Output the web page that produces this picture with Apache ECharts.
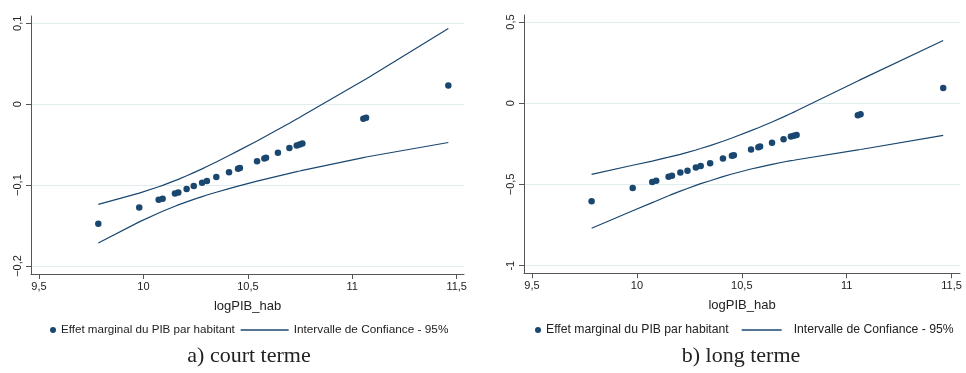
<!DOCTYPE html>
<html>
<head>
<meta charset="utf-8">
<script src="https://cdn.jsdelivr.net/npm/echarts@6/dist/echarts.min.js"></script>
<style>
html,body{margin:0;padding:0;background:#fff;}
#c{width:966px;height:373px;}
</style>
</head>
<body>
<div id="c"></div>
<script>
// ---- data ----
const logPIB = [9.784, 9.980, 10.073, 10.092, 10.151, 10.167, 10.207, 10.241, 10.281, 10.304, 10.349, 10.410, 10.453, 10.462, 10.544, 10.579, 10.587, 10.644, 10.699, 10.734, 10.748, 10.761, 11.053, 11.066, 11.460];

// a) court terme
const effetCourt = [-0.1477, -0.1276, -0.1181, -0.1169, -0.1103, -0.1091, -0.1049, -0.1012, -0.0971, -0.0951, -0.0901, -0.0840, -0.0798, -0.0790, -0.0704, -0.0671, -0.0663, -0.0601, -0.0543, -0.0510, -0.0498, -0.0486, -0.0181, -0.0169, 0.0230];
const upperCourt = [-0.1239, -0.1099, -0.1021, -0.1003, -0.0945, -0.0929, -0.0885, -0.0846, -0.0800, -0.0771, -0.0714, -0.0635, -0.0577, -0.0565, -0.0454, -0.0405, -0.0394, -0.0313, -0.0235, -0.0184, -0.0164, -0.0144, 0.0292, 0.0311, 0.0936];
const lowerCourt = [-0.1715, -0.1455, -0.1345, -0.1323, -0.1261, -0.1245, -0.1207, -0.1176, -0.1142, -0.1123, -0.1088, -0.1043, -0.1013, -0.1007, -0.0952, -0.0929, -0.0924, -0.0889, -0.0855, -0.0834, -0.0826, -0.0818, -0.0660, -0.0653, -0.0474];

// b) long terme
const effetLong = [-0.604, -0.522, -0.485, -0.478, -0.452, -0.446, -0.427, -0.415, -0.396, -0.386, -0.370, -0.341, -0.324, -0.320, -0.285, -0.271, -0.267, -0.244, -0.222, -0.205, -0.201, -0.195, -0.074, -0.068, 0.094];
const upperLong = [-0.438, -0.382, -0.356, -0.350, -0.332, -0.327, -0.315, -0.303, -0.288, -0.279, -0.261, -0.234, -0.214, -0.210, -0.169, -0.151, -0.147, -0.116, -0.084, -0.063, -0.055, -0.046, 0.137, 0.145, 0.386];
const lowerLong = [-0.770, -0.662, -0.612, -0.602, -0.570, -0.561, -0.541, -0.525, -0.506, -0.495, -0.477, -0.452, -0.436, -0.434, -0.405, -0.395, -0.393, -0.376, -0.362, -0.353, -0.351, -0.348, -0.287, -0.285, -0.198];

// ticks
const xTicks = [9.5, 10, 10.5, 11, 11.5];
const xTickLabels = ['9,5', '10', '10,5', '11', '11,5'];
const yTicksCourt = [-0.2, -0.1, 0, 0.1];
const yTickLabelsCourt = ['\u22120,2', '\u22120,1', '0', '0,1'];
const yTicksLong = [-1, -0.5, 0, 0.5];
const yTickLabelsLong = ['-1', '\u22120,5', '0', '0,5'];

const names = {
  effet: 'Effet marginal du PIB par habitant',
  ic: 'Intervalle de Confiance - 95%'
};
const captions = ['a) court terme', 'b) long terme'];
const xName = 'logPIB_hab';

// ---- styling ----
const NAVY = '#1a476f';
const GRID = '#e1ecee';
const AXIS = '#555555';
const FONT = '"Liberation Sans", Arial, sans-serif';
const SERIF = '"Liberation Serif", "DejaVu Serif", serif';

function pairs(xs, ys) { return xs.map((x, i) => [x, ys[i]]); }
function labelFor(ticks, labels) {
  return function (v) {
    for (let i = 0; i < ticks.length; i++) if (Math.abs(ticks[i] - v) < 1e-6) return labels[i];
    return '';
  };
}

function xAxisDef(gridIndex, min, max) {
  return {
    type: 'value', gridIndex, min, max,
    name: xName, nameLocation: 'middle', nameGap: 26,
    nameTextStyle: { fontFamily: FONT, fontSize: 13, color: '#222' },
    axisLine: { show: true, onZero: false, lineStyle: { color: AXIS, width: 1 } },
    axisTick: { show: true, length: 5, customValues: xTicks, lineStyle: { color: AXIS } },
    axisLabel: { customValues: xTicks, formatter: labelFor(xTicks, xTickLabels), margin: 7,
      fontFamily: FONT, fontSize: 11, color: '#222' },
    splitLine: { show: false }
  };
}
function yAxisDef(gridIndex, min, max, ticks, labels) {
  return {
    type: 'value', gridIndex, min, max,
    axisLine: { show: true, onZero: false, lineStyle: { color: AXIS, width: 1 } },
    axisTick: { show: true, length: 5, customValues: ticks, lineStyle: { color: AXIS } },
    axisLabel: { customValues: ticks, formatter: labelFor(ticks, labels), rotate: 90, margin: 8,
      fontFamily: FONT, fontSize: 11, color: '#222' },
    splitLine: { show: false }
  };
}
function gridLines(idx, ticks) {
  return {
    type: 'line', xAxisIndex: idx, yAxisIndex: idx, data: [], z: 0, silent: true,
    markLine: {
      z: 0, silent: true, symbol: 'none', label: { show: false }, animation: false,
      lineStyle: { color: GRID, width: 1, type: 'solid' },
      emphasis: { disabled: true },
      data: ticks.map(v => ({ yAxis: v }))
    }
  };
}
function scatter(idx, ys) {
  return {
    name: names.effet, type: 'scatter', xAxisIndex: idx, yAxisIndex: idx,
    data: pairs(logPIB, ys), symbol: 'circle', symbolSize: 6.5,
    itemStyle: { color: NAVY, opacity: 1 }, z: 3
  };
}
function ciLine(idx, ys) {
  return {
    name: names.ic, type: 'line', xAxisIndex: idx, yAxisIndex: idx,
    data: pairs(logPIB, ys), symbol: 'none', showSymbol: false,
    lineStyle: { color: NAVY, width: 1.2 }, itemStyle: { color: NAVY }, z: 2
  };
}
function legendDef(name, left, iw, ih, isLine, pad, fs) {
  const d = { name };
  if (isLine) {
    d.itemStyle = { color: 'rgba(0,0,0,0)', borderWidth: 0 };
    d.lineStyle = { color: NAVY, width: 1.3 };
  } else {
    d.icon = 'circle';
  }
  return {
    left, top: 324, padding: 0, orient: 'horizontal', itemWidth: iw, itemHeight: ih, itemGap: 0,
    selectedMode: false, data: [d],
    textStyle: { fontFamily: FONT, fontSize: fs, color: '#222', padding: [0, 0, 0, pad] }
  };
}

const option = {
  animation: false,
  backgroundColor: '#fff',
  grid: [
    { left: 31, top: 16, width: 433, height: 258 },
    { left: 524, top: 15, width: 436, height: 258.3 }
  ],
  xAxis: [xAxisDef(0, 9.4617, 11.535), xAxisDef(1, 9.4618, 11.54)],
  yAxis: [
    yAxisDef(0, -0.2099, 0.109, yTicksCourt, yTickLabelsCourt),
    yAxisDef(1, -1.047, 0.543, yTicksLong, yTickLabelsLong)
  ],
  legend: [
    legendDef(names.effet, 50, 6, 6, false, 0, 11.6),
    legendDef(names.ic, 240, 48, 10, true, 0, 11.8),
    legendDef(names.effet, 535, 6, 6, false, 0, 12.2),
    legendDef(names.ic, 741, 40, 10, true, 7, 12.2)
  ],
  series: [
    gridLines(0, yTicksCourt),
    ciLine(0, upperCourt),
    ciLine(0, lowerCourt),
    scatter(0, effetCourt),
    gridLines(1, yTicksLong),
    ciLine(1, upperLong),
    ciLine(1, lowerLong),
    scatter(1, effetLong)
  ],
  graphic: [
    { type: 'text', x: 249, y: 345,
      style: { text: captions[0], font: '22px ' + SERIF, fill: '#222', textAlign: 'center', textVerticalAlign: 'top' } },
    { type: 'text', x: 741, y: 345,
      style: { text: captions[1], font: '22px ' + SERIF, fill: '#222', textAlign: 'center', textVerticalAlign: 'top' } }
  ]
};

const chart = echarts.init(document.getElementById('c'), null, { renderer: 'canvas' });
chart.setOption(option);
</script>
</body>
</html>
